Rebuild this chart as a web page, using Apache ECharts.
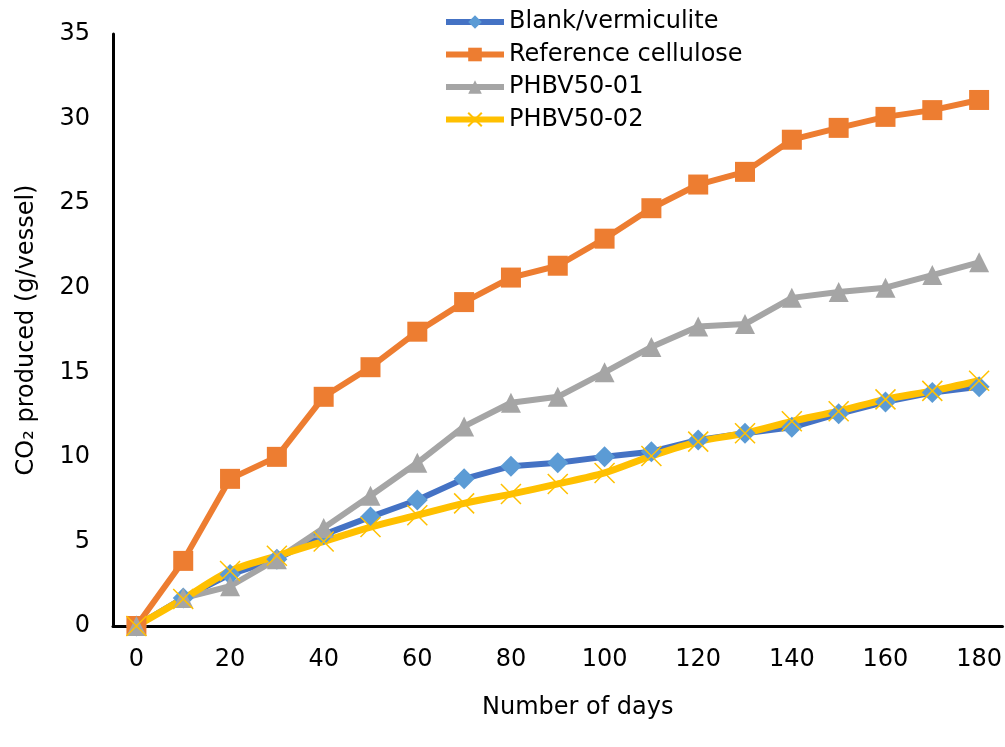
<!DOCTYPE html>
<html>
<head>
<meta charset="utf-8">
<script src="https://cdn.jsdelivr.net/npm/echarts@6/dist/echarts.min.js"></script>
<style>html,body{margin:0;padding:0;background:#fff}#c{width:1005px;height:747px}</style>
</head>
<body>
<div id="c"></div>
<script>
var days = [0,10,20,30,40,50,60,70,80,90,100,110,120,130,140,150,160,170,180];
var blankVermiculite = [0,1.65,3.05,3.95,5.4,6.45,7.45,8.7,9.45,9.65,10.0,10.3,11.0,11.4,11.75,12.55,13.25,13.8,14.15];
var referenceCellulose = [0,3.85,8.7,10.0,13.55,15.3,17.4,19.15,20.6,21.3,22.9,24.7,26.1,26.85,28.75,29.45,30.1,30.5,31.1];
var phbv5001 = [0,1.65,2.35,3.95,5.8,7.7,9.65,11.8,13.2,13.55,15.0,16.5,17.7,17.85,19.4,19.75,20.0,20.75,21.5];
var phbv5002 = [0,1.6,3.25,4.15,5.0,5.85,6.55,7.25,7.8,8.4,9.05,10.05,10.9,11.4,12.1,12.7,13.4,13.9,14.5];
var yTicks = [0,5,10,15,20,25,30,35];

var FONT = 'DejaVu Sans';
var chart = echarts.init(document.getElementById('c'), null, {renderer:'canvas'});
chart.setOption({
  animation: false,
  backgroundColor: '#ffffff',
  textStyle: {fontFamily: FONT},
  grid: {left: 113, right: 2, top: 34, bottom: 121, containLabel: false},
  legend: {
    orient: 'vertical', left: 438, top: 5, padding: 5,
    itemWidth: 58, itemHeight: 17, itemGap: 8.5,
    lineStyle: {width: 6},
    textStyle: {fontFamily: FONT, fontSize: 24, color: '#000', lineHeight: 24},
    data: ['Blank/vermiculite','Reference cellulose','PHBV50-01','PHBV50-02']
  },
  xAxis: {
    type: 'category', data: days, boundaryGap: true,
    name: 'Number of days', nameLocation: 'middle', nameGap: 70,
    nameTextStyle: {fontFamily: FONT, fontSize: 24, color: '#000', padding: [0,0,0,40]},
    axisLine: {show: true, lineStyle: {color: '#000', width: 3}},
    axisTick: {show: false},
    axisLabel: {interval: 1, margin: 22, fontFamily: FONT, fontSize: 24, color: '#000'},
    splitLine: {show: false}
  },
  yAxis: {
    type: 'value', min: yTicks[0], max: yTicks[yTicks.length-1], interval: 5,
    name: 'CO\u2082 produced (g/vessel)', nameLocation: 'middle', nameGap: 74, nameRotate: 90,
    nameTextStyle: {fontFamily: FONT, fontSize: 24, color: '#000'},
    axisLine: {show: true, lineStyle: {color: '#000', width: 3}},
    axisTick: {show: false},
    axisLabel: {margin: 23, fontFamily: FONT, fontSize: 24, color: '#000'},
    splitLine: {show: false}
  },
  series: [
    {name: 'Blank/vermiculite', type: 'line', data: blankVermiculite,
     symbol: 'diamond', symbolSize: 21,
     itemStyle: {color: '#5B9BD5'}, lineStyle: {color: '#4472C4', width: 6}},
    {name: 'Reference cellulose', type: 'line', data: referenceCellulose,
     symbol: 'rect', symbolSize: 20,
     itemStyle: {color: '#ED7D31'}, lineStyle: {color: '#ED7D31', width: 6}},
    {name: 'PHBV50-01', type: 'line', data: phbv5001,
     symbol: 'triangle', symbolSize: 20,
     itemStyle: {color: '#A5A5A5'}, lineStyle: {color: '#A5A5A5', width: 6}},
    {name: 'PHBV50-02', type: 'line', data: phbv5002, smooth: 0.3,
     symbol: 'path://M0,0L10,10M10,0L0,10', symbolSize: 20,
     itemStyle: {color: 'rgba(0,0,0,0)', borderColor: '#FFC000', borderWidth: 1.5},
     lineStyle: {color: '#FFC000', width: 7}}
  ]
});
</script>
</body>
</html>
